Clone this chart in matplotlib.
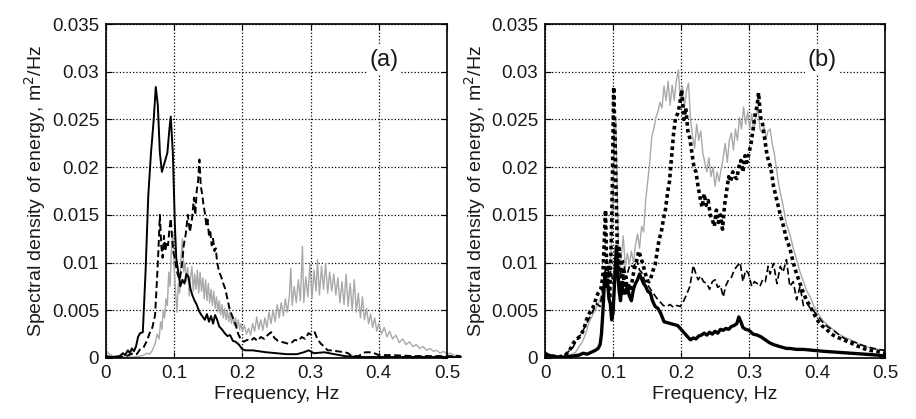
import numpy as np
import matplotlib
matplotlib.use("Agg")
import matplotlib.pyplot as plt


# tick values / labels
x_ticks = [0, 0.1, 0.2, 0.3, 0.4, 0.5]
x_tick_labels = ["0", "0.1", "0.2", "0.3", "0.4", "0.5"]
y_ticks = [0, 0.005, 0.01, 0.015, 0.02, 0.025, 0.03, 0.035]
y_tick_labels = ["0", "0.005", "0.01", "0.015", "0.02", "0.025", "0.03", "0.035"]

# ---- panel (a) ----
a_solid_x = [0.0, 0.01, 0.02, 0.025, 0.028, 0.032, 0.035, 0.038, 0.041, 0.044, 0.047, 0.050, 0.054, 0.058,
             0.062, 0.066, 0.070, 0.073, 0.076, 0.079, 0.082, 0.086, 0.090, 0.093, 0.095, 0.098, 0.101, 0.103,
             0.105, 0.107, 0.109, 0.112, 0.115, 0.118, 0.121, 0.124, 0.127, 0.130, 0.133, 0.136, 0.139, 0.142,
             0.145, 0.148, 0.151, 0.154, 0.157, 0.160, 0.163, 0.166, 0.170, 0.174, 0.178, 0.182, 0.186, 0.190,
             0.195, 0.200, 0.205, 0.215, 0.225, 0.235, 0.25, 0.265, 0.28, 0.29, 0.297, 0.305, 0.32, 0.335,
             0.35, 0.37, 0.40, 0.45, 0.50, 0.52]
a_solid_y = [0.0002, 0.0001, 0.0002, 0.0005, 0.0003, 0.0008, 0.0005, 0.0010, 0.0007, 0.0012, 0.0022, 0.0026,
             0.0027, 0.0090, 0.0170, 0.0215, 0.0250, 0.0284, 0.0265, 0.0215, 0.0195, 0.0205, 0.0215, 0.0240,
             0.0253, 0.0215, 0.0140, 0.0105, 0.0095, 0.0085, 0.0075, 0.0082, 0.0078, 0.0088, 0.0085, 0.0072,
             0.0065, 0.0060, 0.0056, 0.0050, 0.0046, 0.0043, 0.0040, 0.0046, 0.0038, 0.0044, 0.0036, 0.0045,
             0.0040, 0.0033, 0.0030, 0.0026, 0.0023, 0.0024, 0.0018, 0.0017, 0.0014, 0.0009, 0.0008, 0.0008,
             0.0007, 0.0006, 0.0005, 0.0004, 0.0004, 0.0006, 0.0008, 0.0005, 0.0006, 0.0004, 0.0002, 0.0001,
             0.0001, 0.0001, 0.0001, 0.0001]

a_dash_x = [0.0, 0.02, 0.03, 0.04, 0.045, 0.05, 0.055, 0.06, 0.064, 0.068, 0.072, 0.075, 0.077, 0.079, 0.081,
            0.083, 0.085, 0.087, 0.089, 0.091, 0.093, 0.095, 0.097, 0.099, 0.101, 0.103, 0.105, 0.108, 0.111,
            0.114, 0.117, 0.120, 0.123, 0.126, 0.129, 0.131, 0.133, 0.135, 0.137, 0.139, 0.141, 0.143, 0.145,
            0.147, 0.149, 0.151, 0.153, 0.155, 0.157, 0.159, 0.161, 0.163, 0.166, 0.169, 0.172, 0.175, 0.178,
            0.181, 0.184, 0.187, 0.190, 0.194, 0.198, 0.202, 0.207, 0.212, 0.217, 0.222, 0.227, 0.232, 0.237,
            0.242, 0.247, 0.252, 0.257, 0.262, 0.267, 0.272, 0.277, 0.282, 0.287, 0.292, 0.297, 0.302, 0.306,
            0.31, 0.315, 0.32, 0.325, 0.33, 0.34, 0.35, 0.355, 0.36, 0.37, 0.38, 0.39, 0.40, 0.42, 0.45, 0.48,
            0.50, 0.52]
a_dash_y = [0.0001, 0.0001, 0.0002, 0.0005, 0.0004, 0.0009, 0.0011, 0.0018, 0.0026, 0.0032, 0.0045, 0.0085,
            0.0115, 0.0150, 0.0118, 0.0105, 0.0128, 0.0112, 0.0122, 0.0118, 0.0135, 0.0146, 0.0125, 0.0110,
            0.0105, 0.0095, 0.0088, 0.0082, 0.0095, 0.0118, 0.0130, 0.0150, 0.0132, 0.0145, 0.0168, 0.0150,
            0.0175, 0.0185, 0.0208, 0.0180, 0.0172, 0.0160, 0.0152, 0.0140, 0.0145, 0.0128, 0.0132, 0.0118,
            0.0125, 0.0112, 0.0115, 0.0100, 0.0090, 0.0085, 0.0078, 0.0072, 0.0062, 0.0052, 0.0046, 0.0040,
            0.0035, 0.0025, 0.0019, 0.0017, 0.0019, 0.0018, 0.0021, 0.0018, 0.0022, 0.0020, 0.0024, 0.0027,
            0.0021, 0.0018, 0.0017, 0.0016, 0.0015, 0.0016, 0.0019, 0.0018, 0.0022, 0.0020, 0.0026, 0.0024,
            0.0027, 0.0020, 0.0015, 0.0012, 0.0008, 0.0008, 0.0007, 0.0006, 0.0005, 0.0002, 0.0002, 0.0006,
            0.0006, 0.0003, 0.0003, 0.0002, 0.0002, 0.0002, 0.0002]

a_gray_x = [0.0, 0.005, 0.01, 0.02, 0.03, 0.04, 0.05, 0.055, 0.06, 0.064, 0.068, 0.072, 0.075, 0.078, 0.080,
            0.082, 0.084, 0.086, 0.088, 0.090, 0.092, 0.094, 0.096, 0.098, 0.100, 0.102, 0.104, 0.106, 0.108,
            0.110, 0.112, 0.114, 0.116, 0.118, 0.120, 0.122, 0.124, 0.126, 0.128, 0.130, 0.132, 0.134, 0.136,
            0.138, 0.140, 0.142, 0.144, 0.146, 0.148, 0.150, 0.152, 0.154, 0.156, 0.158, 0.160, 0.162, 0.164,
            0.166, 0.168, 0.170, 0.172, 0.174, 0.176, 0.178, 0.180, 0.182, 0.184, 0.186, 0.188, 0.190, 0.192,
            0.194, 0.196, 0.198, 0.200, 0.203, 0.206, 0.209, 0.212, 0.215, 0.218, 0.221, 0.224, 0.227, 0.230,
            0.233, 0.236, 0.239, 0.242, 0.245, 0.248, 0.251, 0.254, 0.257, 0.260, 0.263, 0.266, 0.269, 0.271,
            0.273, 0.276, 0.279, 0.282, 0.285, 0.288, 0.290, 0.293, 0.296, 0.299, 0.302, 0.305, 0.308, 0.310,
            0.313, 0.316, 0.319, 0.322, 0.325, 0.328, 0.331, 0.334, 0.337, 0.340, 0.343, 0.346, 0.349, 0.352,
            0.355, 0.358, 0.361, 0.364, 0.367, 0.370, 0.373, 0.376, 0.379, 0.382, 0.385, 0.388, 0.391, 0.394,
            0.397, 0.400, 0.404, 0.408, 0.412, 0.416, 0.420, 0.425, 0.430, 0.435, 0.440, 0.445, 0.450, 0.455,
            0.460, 0.465, 0.470, 0.475, 0.480, 0.485, 0.490, 0.495, 0.500, 0.505, 0.510, 0.515, 0.52]
a_gray_y = [0.0008, 0.0004, 0.0002, 0.0001, 0.0001, 0.0001, 0.0002, 0.0003, 0.0005, 0.0004, 0.0008, 0.0015,
            0.0025, 0.0020, 0.0038, 0.0030, 0.0050, 0.0042, 0.0062, 0.0055, 0.0090, 0.0075, 0.0115, 0.0132,
            0.0095, 0.0070, 0.0048, 0.0078, 0.0068, 0.0105, 0.0125, 0.0090, 0.0100, 0.0080, 0.0095, 0.0065,
            0.0085, 0.0096, 0.0070, 0.0088, 0.0072, 0.0092, 0.0068, 0.0090, 0.0070, 0.0084, 0.0062, 0.0082,
            0.0060, 0.0078, 0.0058, 0.0072, 0.0055, 0.0070, 0.0052, 0.0064, 0.0048, 0.0060, 0.0045, 0.0056,
            0.0042, 0.0052, 0.0040, 0.0050, 0.0038, 0.0048, 0.0036, 0.0044, 0.0034, 0.0042, 0.0032, 0.0040,
            0.0030, 0.0036, 0.0028, 0.0034, 0.0025, 0.0031, 0.0024, 0.0036, 0.0028, 0.0043, 0.0030, 0.0040,
            0.0029, 0.0042, 0.0032, 0.0048, 0.0036, 0.0050, 0.0038, 0.0056, 0.0042, 0.0058, 0.0044, 0.0062,
            0.0048, 0.0066, 0.0094, 0.0055, 0.0075, 0.0058, 0.0082, 0.0060, 0.0117, 0.0058, 0.0085, 0.0064,
            0.0098, 0.0062, 0.0092, 0.0070, 0.0103, 0.0066, 0.0096, 0.0072, 0.0099, 0.0068, 0.0090, 0.0070,
            0.0088, 0.0066, 0.0084, 0.0058, 0.0080, 0.0056, 0.0088, 0.0054, 0.0078, 0.0050, 0.0082, 0.0048,
            0.0068, 0.0042, 0.0064, 0.0040, 0.0052, 0.0036, 0.0046, 0.0032, 0.0042, 0.0028, 0.0036, 0.0025,
            0.0032, 0.0022, 0.0028, 0.0020, 0.0024, 0.0016, 0.0020, 0.0014, 0.0017, 0.0012, 0.0014, 0.0010,
            0.0012, 0.0008, 0.0010, 0.0007, 0.0008, 0.0005, 0.0007, 0.0004, 0.0005, 0.0003, 0.0003, 0.0002]

# ---- panel (b) ----
b_gray_x = [0.0, 0.01, 0.02, 0.03, 0.04, 0.045, 0.05, 0.055, 0.06, 0.065, 0.07, 0.075, 0.08, 0.085, 0.09,
            0.094, 0.097, 0.100, 0.102, 0.104, 0.106, 0.108, 0.110, 0.112, 0.115, 0.118, 0.121, 0.124, 0.127,
            0.130, 0.133, 0.136, 0.139, 0.142, 0.145, 0.148, 0.151, 0.154, 0.157, 0.160, 0.163, 0.166, 0.169,
            0.172, 0.175, 0.178, 0.181, 0.184, 0.187, 0.190, 0.193, 0.196, 0.199, 0.202, 0.205, 0.208, 0.211,
            0.214, 0.217, 0.220, 0.223, 0.226, 0.229, 0.232, 0.235, 0.238, 0.241, 0.244, 0.247, 0.250, 0.253,
            0.256, 0.259, 0.262, 0.265, 0.268, 0.271, 0.274, 0.277, 0.280, 0.283, 0.286, 0.289, 0.292, 0.295,
            0.298, 0.301, 0.304, 0.307, 0.310, 0.313, 0.316, 0.319, 0.322, 0.325, 0.328, 0.331, 0.334, 0.337,
            0.340, 0.343, 0.346, 0.350, 0.355, 0.360, 0.365, 0.370, 0.375, 0.380, 0.385, 0.390, 0.395, 0.400,
            0.41, 0.42, 0.43, 0.44, 0.45, 0.46, 0.47, 0.48, 0.49, 0.50]
b_gray_y = [0.0005, 0.0002, 0.0001, 0.0002, 0.0004, 0.0006, 0.0012, 0.0017, 0.0026, 0.0038, 0.0045, 0.0052,
            0.0060, 0.0070, 0.0088, 0.0080, 0.0110, 0.0180, 0.0235, 0.0250, 0.0180, 0.0110, 0.0085, 0.0105,
            0.0128, 0.0095, 0.0110, 0.0098, 0.0112, 0.0100, 0.0118, 0.0130, 0.0115, 0.0138, 0.0132, 0.0165,
            0.0185, 0.0205, 0.0232, 0.0240, 0.0252, 0.0258, 0.0268, 0.0262, 0.0285, 0.0270, 0.0290, 0.0265,
            0.0286, 0.0270, 0.0290, 0.0302, 0.0270, 0.0285, 0.0262, 0.0280, 0.0288, 0.0250, 0.0232, 0.0220,
            0.0245, 0.0228, 0.0238, 0.0215, 0.0205, 0.0195, 0.0210, 0.0190, 0.0200, 0.0180, 0.0195, 0.0185,
            0.0198, 0.0210, 0.0225, 0.0205, 0.0228, 0.0236, 0.0218, 0.0240, 0.0228, 0.0252, 0.0240, 0.0263,
            0.0245, 0.0258, 0.0240, 0.0256, 0.0238, 0.0252, 0.0263, 0.0240, 0.0236, 0.0242, 0.0230, 0.0238,
            0.0240, 0.0225, 0.0215, 0.0200, 0.0185, 0.0173, 0.0160, 0.0140, 0.0130, 0.0115, 0.0103, 0.0090,
            0.0080, 0.0070, 0.0064, 0.0055, 0.0048, 0.0038, 0.0032, 0.0026, 0.0022, 0.0019, 0.0015, 0.0012,
            0.0010, 0.0009, 0.0008]

b_dash_x = [0.0, 0.01, 0.02, 0.03, 0.04, 0.047, 0.052, 0.056, 0.061, 0.066, 0.071, 0.076, 0.081, 0.086, 0.091,
            0.094, 0.097, 0.100, 0.104, 0.107, 0.110, 0.113, 0.115, 0.118, 0.121, 0.125, 0.130, 0.135, 0.139,
            0.142, 0.146, 0.150, 0.155, 0.159, 0.164, 0.169, 0.174, 0.179, 0.184, 0.189, 0.194, 0.199, 0.204,
            0.209, 0.213, 0.216, 0.218, 0.221, 0.225, 0.229, 0.233, 0.238, 0.242, 0.246, 0.250, 0.254, 0.258,
            0.262, 0.266, 0.270, 0.2745, 0.278, 0.282, 0.287, 0.291, 0.295, 0.299, 0.304, 0.308, 0.312, 0.316,
            0.320, 0.324, 0.328, 0.331, 0.336, 0.341, 0.346, 0.350, 0.355, 0.360, 0.365, 0.370, 0.375, 0.380,
            0.385, 0.390, 0.394, 0.400, 0.41, 0.417, 0.424, 0.431, 0.439, 0.448, 0.458, 0.468, 0.478, 0.489, 0.50]
b_dash_y = [0.0004, 0.0002, 0.0001, 0.0004, 0.0010, 0.0019, 0.0024, 0.0029, 0.0036, 0.0043, 0.0050, 0.0057,
            0.0054, 0.0078, 0.0103, 0.0085, 0.0092, 0.0078, 0.0090, 0.0080, 0.0084, 0.0095, 0.0102, 0.0090,
            0.0088, 0.0098, 0.0095, 0.0103, 0.0092, 0.0090, 0.0082, 0.0078, 0.0072, 0.0068, 0.0063, 0.0059,
            0.0055, 0.0054, 0.0056, 0.0053, 0.0055, 0.0054, 0.0060, 0.0068, 0.0075, 0.0088, 0.0097, 0.0090,
            0.0082, 0.0086, 0.0080, 0.0078, 0.0072, 0.0080, 0.0082, 0.0074, 0.0076, 0.0064, 0.0076, 0.0082,
            0.0085, 0.0092, 0.0096, 0.0100, 0.0080, 0.0092, 0.0089, 0.0075, 0.0080, 0.0078, 0.0075, 0.0082,
            0.0080, 0.0096, 0.0088, 0.0099, 0.0078, 0.0096, 0.0090, 0.0103, 0.0075, 0.0080, 0.0061, 0.0075,
            0.0055, 0.0058, 0.0052, 0.0050, 0.0045, 0.0036, 0.0032, 0.0029, 0.0025, 0.0021, 0.0018, 0.0016,
            0.0013, 0.0011, 0.0009, 0.0008]

b_dot_x = [0.0, 0.01, 0.02, 0.03, 0.036, 0.042, 0.047, 0.052, 0.057, 0.061, 0.066, 0.070, 0.074, 0.078, 0.082,
           0.085, 0.087, 0.089, 0.091, 0.093, 0.095, 0.097, 0.099, 0.101, 0.103, 0.105, 0.107, 0.109, 0.111,
           0.113, 0.115, 0.117, 0.119, 0.121, 0.123, 0.126, 0.129, 0.132, 0.135, 0.138, 0.141, 0.144, 0.147,
           0.150, 0.153, 0.156, 0.159, 0.162, 0.165, 0.168, 0.171, 0.174, 0.177, 0.180, 0.183, 0.186, 0.189,
           0.192, 0.195, 0.198, 0.201, 0.204, 0.207, 0.210, 0.213, 0.216, 0.219, 0.222, 0.225, 0.228, 0.231,
           0.234, 0.237, 0.240, 0.243, 0.246, 0.249, 0.252, 0.255, 0.258, 0.261, 0.264, 0.267, 0.270, 0.273,
           0.276, 0.279, 0.282, 0.285, 0.288, 0.291, 0.294, 0.297, 0.300, 0.303, 0.306, 0.309, 0.312, 0.314,
           0.317, 0.320, 0.323, 0.326, 0.329, 0.332, 0.336, 0.341, 0.346, 0.350, 0.355, 0.360, 0.365, 0.370,
           0.375, 0.380, 0.385, 0.390, 0.395, 0.400, 0.407, 0.414, 0.421, 0.429, 0.439, 0.449, 0.458, 0.468,
           0.478, 0.488, 0.50]
b_dot_y = [0.0003, 0.0002, 0.0001, 0.0003, 0.0008, 0.0016, 0.0020, 0.0023, 0.0030, 0.0040, 0.0048, 0.0052,
           0.0060, 0.0068, 0.0072, 0.0085, 0.0120, 0.0155, 0.0080, 0.0095, 0.0062, 0.0110, 0.0180, 0.0284,
           0.0230, 0.0160, 0.0090, 0.0115, 0.0100, 0.0075, 0.0092, 0.0070, 0.0085, 0.0066, 0.0078, 0.0070,
           0.0085, 0.0095, 0.0103, 0.0112, 0.0105, 0.0098, 0.0090, 0.0082, 0.0080, 0.0085, 0.0092, 0.0098,
           0.0112, 0.0125, 0.0132, 0.0145, 0.0155, 0.0172, 0.0185, 0.0210, 0.0235, 0.0252, 0.0256, 0.0265,
           0.0281, 0.0250, 0.0262, 0.0238, 0.0230, 0.0215, 0.0200, 0.0195, 0.0180, 0.0168, 0.0158, 0.0172,
           0.0160, 0.0165, 0.0150, 0.0145, 0.0138, 0.0155, 0.0142, 0.0150, 0.0135, 0.0160, 0.0175, 0.0190,
           0.0185, 0.0195, 0.0190, 0.0188, 0.0200, 0.0207, 0.0195, 0.0212, 0.0205, 0.0215, 0.0225, 0.0240,
           0.0255, 0.0265, 0.0278, 0.0252, 0.0245, 0.0230, 0.0215, 0.0205, 0.0200, 0.0180, 0.0165, 0.0150,
           0.0140, 0.0125, 0.0115, 0.0100, 0.0088, 0.0078, 0.0068, 0.0060, 0.0054, 0.0047, 0.0040, 0.0034,
           0.0030, 0.0025, 0.0022, 0.0019, 0.0016, 0.0013, 0.0010, 0.0008, 0.0007, 0.0005]

b_solid_x = [0.0, 0.005, 0.01, 0.02, 0.03, 0.04, 0.05, 0.056, 0.062, 0.068, 0.074, 0.078, 0.081, 0.083, 0.085,
             0.087, 0.088, 0.090, 0.092, 0.094, 0.096, 0.098, 0.100, 0.102, 0.104, 0.105, 0.107, 0.109, 0.111,
             0.113, 0.115, 0.118, 0.121, 0.124, 0.127, 0.130, 0.133, 0.136, 0.139, 0.142, 0.145, 0.148, 0.151,
             0.155, 0.158, 0.162, 0.166, 0.170, 0.175, 0.180, 0.185, 0.190, 0.195, 0.200, 0.205, 0.210, 0.214,
             0.218, 0.222, 0.226, 0.230, 0.234, 0.238, 0.242, 0.246, 0.250, 0.254, 0.258, 0.262, 0.266, 0.270,
             0.274, 0.278, 0.282, 0.285, 0.288, 0.291, 0.295, 0.300, 0.306, 0.312, 0.318, 0.324, 0.330, 0.336,
             0.345, 0.355, 0.36, 0.37, 0.38, 0.395, 0.41, 0.43, 0.45, 0.47, 0.49, 0.50]
b_solid_y = [0.0005, 0.0003, 0.0002, 0.0001, 0.0001, 0.0002, 0.0003, 0.0005, 0.0004, 0.0006, 0.0008, 0.0010,
             0.0014, 0.0025, 0.0047, 0.0075, 0.0089, 0.0075, 0.0080, 0.0062, 0.0057, 0.0040, 0.0047, 0.0075,
             0.0105, 0.0117, 0.0090, 0.0070, 0.0060, 0.0078, 0.0068, 0.0068, 0.0075, 0.0065, 0.0060, 0.0072,
             0.0078, 0.0082, 0.0088, 0.0083, 0.0078, 0.0075, 0.0070, 0.0068, 0.0060, 0.0054, 0.0052, 0.0047,
             0.0038, 0.0037, 0.0036, 0.0035, 0.0034, 0.0030, 0.0026, 0.0022, 0.0019, 0.0021, 0.0020, 0.0023,
             0.0024, 0.0026, 0.0024, 0.0027, 0.0025, 0.0028, 0.0026, 0.0030, 0.0029, 0.0031, 0.0030, 0.0033,
             0.0034, 0.0036, 0.0043, 0.0038, 0.0032, 0.0030, 0.0029, 0.0025, 0.0024, 0.0022, 0.0019, 0.0016,
             0.0014, 0.0012, 0.0010, 0.0010, 0.0009, 0.0009, 0.0008, 0.0007, 0.0006, 0.0005, 0.0004, 0.0003,
             0.0002]

plt.rcParams['font.family'] = ['Liberation Sans', 'DejaVu Sans']
TXT = '#1a1a1a'
GRAY = '#a9a9a9'


def setup_axes(ax, label, ylab_x):
    ax.set_xticks(x_ticks)
    ax.set_xticklabels(x_tick_labels)
    ax.set_yticks(y_ticks)
    ax.set_yticklabels(y_tick_labels)
    ax.set_xlim(0, 0.5)
    ax.set_ylim(0, 0.035)
    ax.tick_params(direction='in', length=4, width=0.8, top=True, right=True,
                   labelsize=13.5, labelcolor=TXT, pad=5)
    ax.grid(True, linestyle=':', color='black', linewidth=0.9)
    for s in ax.spines.values():
        s.set_linewidth(1.2)
    ax.set_xlabel("Frequency, Hz", fontsize=14, color=TXT, labelpad=3)
    ax.set_ylabel("Spectral density of energy, m$^2$/Hz", fontsize=14, color=TXT)
    ax.yaxis.set_label_coords(ylab_x, 0.5)
    ax.text(0.815, 0.892, label, transform=ax.transAxes, fontsize=17, color=TXT,
            ha='center', va='center', zorder=5,
            bbox=dict(facecolor='white', edgecolor='none', pad=2))


fig = plt.figure(figsize=(9.16, 4.19), dpi=100)

# panel (a) - curves run a little past the right border in the original
ax1 = fig.add_axes([0.1157, 0.1456, 0.3723, 0.7971])
ax1.plot(a_gray_x, a_gray_y, color=GRAY, lw=1.0, clip_on=False)
ax1.plot(a_dash_x, a_dash_y, color='black', lw=1.4, dashes=(3.5, 1.8), clip_on=False)
ax1.plot(a_solid_x, a_solid_y, color='black', lw=1.4, clip_on=False)
setup_axes(ax1, "(a)", -0.17)

# panel (b)
ax2 = fig.add_axes([0.595, 0.1456, 0.3712, 0.7971])
ax2.plot(b_gray_x, b_gray_y, color=GRAY, lw=1.0)
ax2.plot(b_dash_x, b_dash_y, color='black', lw=1.2, dashes=(4, 2))
ax2.plot(b_dot_x, b_dot_y, color='black', lw=2.6, dashes=(1.0, 0.9), dash_capstyle='butt')
ax2.plot(b_solid_x, b_solid_y, color='black', lw=2.4)
setup_axes(ax2, "(b)", -0.168)

plt.savefig("out.png", dpi=100)
